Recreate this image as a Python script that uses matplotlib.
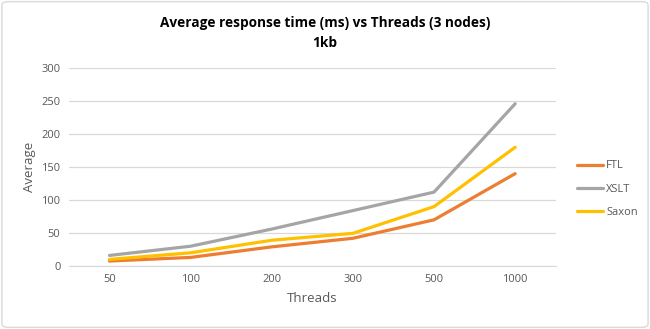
import matplotlib
matplotlib.use("Agg")
import matplotlib.pyplot as plt
from matplotlib.patches import FancyBboxPatch

categories = ["50", "100", "200", "300", "500", "1000"]
ftl = [7.5, 13, 29, 42, 70, 140]
xslt = [16, 30, 56, 84, 112, 246]
saxon = [10, 20, 39, 49.5, 90, 180]
series_names = ["FTL", "XSLT", "Saxon"]
colors = ["#ED7D31", "#A5A5A5", "#FFC000"]

plt.rcParams['font.family'] = ['Open Sans', 'DejaVu Sans']

fig = plt.figure(figsize=(6.5, 3.29), dpi=100)
fig.patch.set_facecolor("white")
border = FancyBboxPatch((0.003, 0.005), 0.994, 0.99, boxstyle="round,pad=0,rounding_size=0.01",
                        transform=fig.transFigure, facecolor="none", edgecolor="#D9D9D9", lw=1,
                        zorder=-1)
fig.patches.append(border)

ax = fig.add_axes([0.106, 0.1915, 0.749, 0.6015])
ax.patch.set_alpha(0)
x = list(range(len(categories)))
for vals, name, c in zip([ftl, xslt, saxon], series_names, colors):
    ax.plot(x, vals, color=c, lw=2.3, label=name, solid_capstyle="round")

ax.set_xlim(-0.5, len(categories) - 0.5)
ax.set_ylim(0, 300)
ax.set_yticks(range(0, 301, 50))
ax.set_xticks(x)
ax.set_xticklabels(categories)
ax.yaxis.grid(True, color="#D9D9D9", lw=0.9)
ax.set_axisbelow(True)
for s in ["top", "right", "left"]:
    ax.spines[s].set_visible(False)
ax.spines["bottom"].set_color("#D9D9D9")
ax.tick_params(axis="both", length=0, colors="#595959", labelsize=8, pad=6)
ax.set_xlabel("Threads", color="#595959", fontsize=9.5, labelpad=5)
ax.set_ylabel("Average", color="#595959", fontsize=9.5, labelpad=4)

fig.text(0.5, 0.93, "Average response time (ms) vs Threads (3 nodes)", ha="center", va="center",
         fontsize=9.8, fontweight="bold", color="#000000")
fig.text(0.5, 0.868, "1kb", ha="center", va="center", fontsize=9.8, fontweight="bold", color="#000000")

leg = fig.legend(loc="center left", bbox_to_anchor=(0.873, 0.425), frameon=False, fontsize=8,
                 handlelength=2.3, handletextpad=0.3, labelspacing=1.1, labelcolor="#595959")

fig.savefig("out.png", dpi=100, facecolor="white")
